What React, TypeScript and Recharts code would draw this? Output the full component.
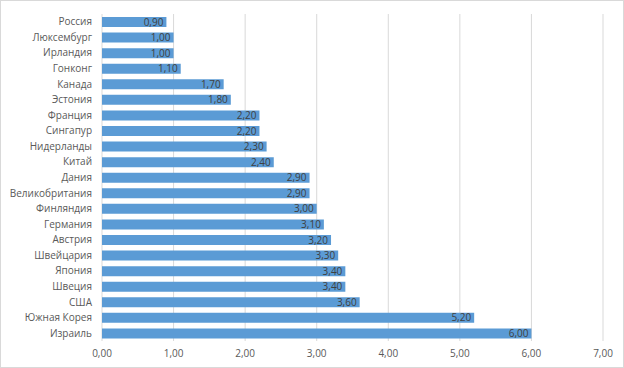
import React from "react";
import { BarChart, Bar, XAxis, YAxis, CartesianGrid, LabelList } from "recharts";

const countries = [
  "Россия", "Люксембург", "Ирландия", "Гонконг", "Канада", "Эстония", "Франция",
  "Сингапур", "Нидерланды", "Китай", "Дания", "Великобритания", "Финляндия",
  "Германия", "Австрия", "Швейцария", "Япония", "Швеция", "США", "Южная Корея", "Израиль",
];
const values = [
  0.9, 1.0, 1.0, 1.1, 1.7, 1.8, 2.2, 2.2, 2.3, 2.4, 2.9, 2.9, 3.0, 3.1, 3.2, 3.3, 3.4, 3.4, 3.6, 5.2, 6.0,
];
const xTicks = [0, 1, 2, 3, 4, 5, 6, 7];

const data = countries.map((name, i) => ({ name, value: values[i] }));
const fmt = (v: number) => v.toFixed(2).replace(".", ",");
const font = "'Open Sans', 'Liberation Sans', sans-serif";

export default function App() {
  return (
    <div
      style={{
        position: "absolute",
        left: 0,
        top: 0,
        width: 624,
        height: 368,
        background: "#fff",
        boxSizing: "border-box",
        border: "1px solid #D9D9D9",
        fontFamily: font,
      }}
    >
      <div style={{ position: "absolute", left: -1, top: -1 }}>
        <BarChart
          width={624}
          height={368}
          data={data}
          layout="vertical"
          margin={{ top: 14, right: 21, bottom: 6, left: 0 }}
          barSize={10}
        >
          <CartesianGrid horizontal={false} stroke="#D9D9D9" />
          <XAxis
            type="number"
            domain={[0, 7]}
            ticks={xTicks}
            tickFormatter={fmt}
            axisLine={false}
            tickLine={false}
            height={21}
            tick={{ fill: "#595959", fontSize: 10, fontFamily: font }}
            tickMargin={3}
          />
          <YAxis
            type="category"
            dataKey="name"
            width={102}
            axisLine={false}
            tickLine={false}
            interval={0}
            tickMargin={4}
            tick={{ fill: "#595959", fontSize: 10, fontFamily: font }}
          />
          <Bar dataKey="value" fill="#5B9BD5" isAnimationActive={false}>
            <LabelList
              dataKey="value"
              position="insideRight"
              formatter={(v: number) => fmt(v)}
              style={{ fill: "#404040", fontSize: 10, fontFamily: font }}
              offset={3}
            />
          </Bar>
        </BarChart>
      </div>
    </div>
  );
}
